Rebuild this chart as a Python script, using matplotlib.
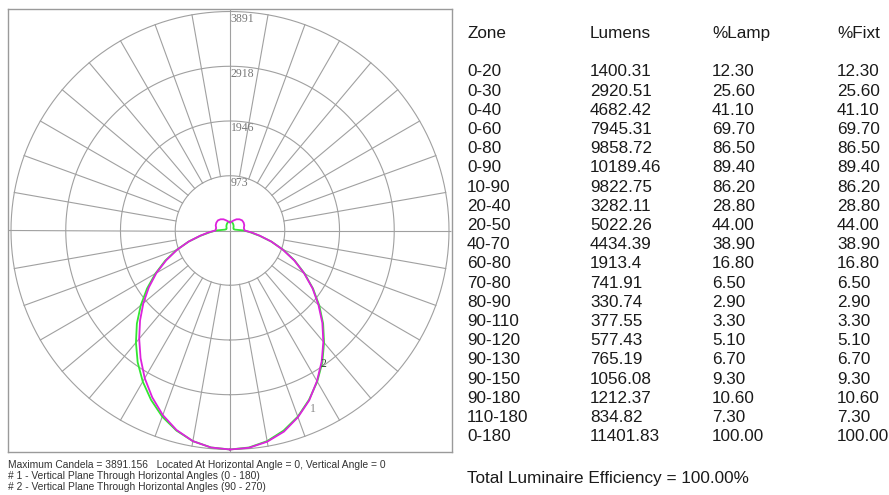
import numpy as np
import matplotlib.pyplot as plt

# photometric data (candela vs vertical angle, 0 = nadir)
angles = [0, 5, 10, 15, 20, 25, 30, 35, 40, 45, 50, 55, 60, 65, 70, 75, 80, 85, 90,
          100, 110, 120, 130, 140, 150, 160, 170, 180]
plane1_cd = [3891, 3870, 3800, 3680, 3520, 3320, 3100, 2860, 2600, 2340, 2070, 1800, 1530,
             1270, 1010, 760, 530, 360, 250, 90, 70, 70, 80, 100, 120, 140, 155, 160]
plane2_right_cd = [3891, 3875, 3810, 3700, 3530, 3330, 3090, 2840, 2580, 2320, 2050, 1790, 1520,
                   1260, 1000, 760, 540, 380, 260, 250, 270, 280, 280, 260, 230, 190, 160, 140]
plane2_left_cd = [3891, 3870, 3800, 3670, 3490, 3270, 3030, 2770, 2510, 2260, 2010, 1760, 1510,
                  1250, 1000, 760, 540, 380, 260, 250, 270, 280, 280, 260, 230, 190, 160, 140]

rings = [973, 1946, 2918, 3891]
max_cd = 3891

zones = ["0-20", "0-30", "0-40", "0-60", "0-80", "0-90", "10-90", "20-40", "20-50", "40-70",
         "60-80", "70-80", "80-90", "90-110", "90-120", "90-130", "90-150", "90-180",
         "110-180", "0-180"]
lumens = [1400.31, 2920.51, 4682.42, 7945.31, 9858.72, 10189.46, 9822.75, 3282.11, 5022.26,
          4434.39, 1913.4, 741.91, 330.74, 377.55, 577.43, 765.19, 1056.08, 1212.37,
          834.82, 11401.83]
pct_lamp = [12.3, 25.6, 41.1, 69.7, 86.5, 89.4, 86.2, 28.8, 44.0, 38.9, 16.8, 6.5, 2.9, 3.3,
            5.1, 6.7, 9.3, 10.6, 7.3, 100.0]
pct_fixt = pct_lamp

W, H = 889, 495
fig = plt.figure(figsize=(W / 100, H / 100), dpi=100)

# box around the polar chart
left, right, top, bottom = 8, 452, 9, 452
rect = [left / W, 1 - bottom / H, (right - left) / W, (bottom - top) / H]
frame = fig.add_axes(rect)
frame.set_xticks([])
frame.set_yticks([])
for s in frame.spines.values():
    s.set_color("#9a9a9a")
    s.set_linewidth(1.0)

ax = fig.add_axes(rect, projection="polar")
ax.patch.set_alpha(0)
ax.set_theta_zero_location("S")
ax.grid(False)
ax.set_xticks([])
ax.set_yticks([])
ax.spines["polar"].set_visible(False)
rmax = max_cd * 221.5 / 219
ax.set_ylim(0, rmax)

gcol = "#a0a0a0"
th = np.linspace(0, 2 * np.pi, 361)
for rv in rings:
    ax.plot(th, np.full_like(th, rv), color=gcol, lw=0.8)
for a in range(0, 360, 10):
    t = np.deg2rad(a)
    if a % 90 == 0:
        ax.plot([t, t], [0, rmax], color=gcol, lw=0.8)
    else:
        ax.plot([t, t], [rings[0], rings[-1]], color=gcol, lw=0.8)

for rv in rings:
    ax.annotate(str(rv), (np.pi, rv), xytext=(0.5, -1), textcoords="offset points",
                ha="left", va="top", fontsize=8.5, color="#777777",
                family="Liberation Serif")

ang = np.array(angles, dtype=float)


def full_curve(right_vals, left_vals):
    t = np.concatenate([ang, 360 - ang[::-1]])
    r = np.concatenate([np.array(right_vals), np.array(left_vals)[::-1]])
    return np.deg2rad(t), r


t1, r1 = full_curve(plane1_cd, plane1_cd)
t2, r2 = full_curve(plane2_right_cd, plane2_left_cd)
ax.plot(t1, r1, color="#33e633", lw=1.3)
ax.plot(t2, r2, color="#dd22dd", lw=1.3)

ax.text(np.deg2rad(35), 2900, "2", fontsize=8.5, color="#335533", family="Liberation Serif",
        ha="center", va="center")
ax.text(np.deg2rad(25), 3500, "1", fontsize=8.5, color="#888888", family="Liberation Serif",
        ha="center", va="center")

# notes under the chart
notes = ["Maximum Candela = 3891.156   Located At Horizontal Angle = 0, Vertical Angle = 0",
         "# 1 - Vertical Plane Through Horizontal Angles (0 - 180)",
         "# 2 - Vertical Plane Through Horizontal Angles (90 - 270)"]
for i, line in enumerate(notes):
    fig.text(8 / W, 1 - (467.5 + i * 11.3) / H, line, fontsize=7.4, color="#333333",
             family="Liberation Sans", ha="left", va="baseline")

# zonal lumen table (baseline = row centre + half cap height)
col_x = [467, 590, 712, 837]
headers = ["Zone", "Lumens", "%Lamp", "%Fixt"]
tkw = dict(fontsize=12.3, color="#1a1a1a", family="Liberation Sans", ha="left", va="baseline")
for x, h in zip(col_x, headers):
    fig.text(x / W, 1 - 38 / H, h, **tkw)
for i in range(len(zones)):
    y = 1 - (76.5 + i * 19.2) / H
    row = [zones[i], str(lumens[i]), "%.2f" % pct_lamp[i], "%.2f" % pct_fixt[i]]
    for x, v in zip(col_x, row):
        fig.text(x / W, y, v, **tkw)
fig.text(467 / W, 1 - 483 / H, "Total Luminaire Efficiency = 100.00%", **tkw)

fig.savefig("out.png", dpi=100)
